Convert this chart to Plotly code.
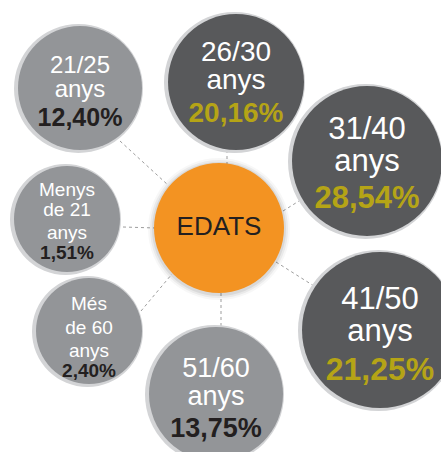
import plotly.graph_objects as go

# ---- data ----
categories = ["Menys de 21 anys", "21/25 anys", "26/30 anys", "31/40 anys",
              "41/50 anys", "51/60 anys", "Més de 60 anys"]
label_lines = [["Menys", "de 21", "anys"], ["21/25", "anys"], ["26/30", "anys"],
               ["31/40", "anys"], ["41/50", "anys"], ["51/60", "anys"],
               ["Més", "de 60", "anys"]]
values = [1.51, 12.40, 20.16, 28.54, 21.25, 13.75, 2.40]
center_label = "EDATS"

# ---- layout constants (pixel space of the picture) ----
W, H = 441, 452
centers = [(67, 219), (80, 88), (236, 82), (367, 161), (380, 330), (216, 394), (89, 331)]
radii = [53, 62, 68, 75, 78, 67, 53]
dark = [False, False, True, True, True, False, False]
label_size = [19, 24, 28, 31, 31, 27, 19]
pct_size = [19, 25, 28, 31, 32, 27, 19]
line_y = [[191, 211, 234], [66.5, 91], [54, 82], [131, 163],
          [301, 333], [370, 398], [305, 329.5, 352]]
pct_y = [254, 119.5, 115, 200, 372, 430, 372]
connectors = [((123, 227), (156, 228)), ((120, 141), (168, 185)), ((227, 150), (227, 165)),
              ((283, 211), (299, 201)), ((276, 262), (314, 286)), ((221, 293), (221, 326)),
              ((141, 311), (172, 274))]
edats_c, edats_r = (219, 228), 65

GRAY, DARKG, ORANGE, OLIVE, INK = "#939598", "#58595b", "#f39322", "#b5a416", "#231f20"
FONT = "Liberation Sans, Arial, Helvetica, sans-serif"

def circ(c, r, color, dx=0, dy=0, opacity=1):
    return dict(type="circle", xref="x", yref="y", layer="below",
                x0=c[0] - r + dx, x1=c[0] + r + dx, y0=c[1] - r + dy, y1=c[1] + r + dy,
                fillcolor=color, line=dict(width=0), opacity=opacity)

shapes = []
for (a, b) in connectors:
    shapes.append(dict(type="line", xref="x", yref="y", layer="below",
                       x0=a[0], y0=a[1], x1=b[0], y1=b[1],
                       line=dict(color="#9d9d9d", width=1, dash="dot")))
# soft glow of centre circle
for k, op in [(6, 0.03), (4, 0.05), (2, 0.07)]:
    shapes.append(circ(edats_c, edats_r + k, "#000000", 0, 1, op))
shapes.append(circ(edats_c, edats_r, ORANGE))
for c, r, d in zip(centers, radii, dark):
    shapes.append(circ(c, r + 2.5, "#d3d4d6", -1.5, 0.5))
    shapes.append(circ(c, r, DARKG if d else GRAY))

fig = go.Figure()
# category labels
xs, ys, txt, sizes = [], [], [], []
for i, lines in enumerate(label_lines):
    for ln, yy in zip(lines, line_y[i]):
        xs.append(centers[i][0]); ys.append(yy); txt.append(ln); sizes.append(label_size[i])
fig.add_trace(go.Scatter(x=xs, y=ys, text=txt, mode="text", textposition="middle center",
                         textfont=dict(family=FONT, size=sizes, color="white"),
                         hoverinfo="skip", showlegend=False))
# percentages
pct_txt = [("%.2f" % v).replace(".", ",") + "%" for v in values]
fig.add_trace(go.Scatter(x=[c[0] for c in centers], y=pct_y,
                         text=["<b>" + t + "</b>" for t in pct_txt],
                         customdata=categories,
                         mode="text", textposition="middle center",
                         textfont=dict(family=FONT, size=pct_size,
                                       color=[OLIVE if d else INK for d in dark]),
                         hovertemplate="%{customdata}: %{text}<extra></extra>",
                         showlegend=False))
fig.add_trace(go.Scatter(x=[edats_c[0]], y=[edats_c[1]], text=[center_label], mode="text",
                         textposition="middle center",
                         textfont=dict(family=FONT, size=26, color=INK),
                         hoverinfo="skip", showlegend=False))

fig.update_layout(width=W, height=H, margin=dict(l=0, r=0, t=0, b=0),
                  paper_bgcolor="white", plot_bgcolor="white", shapes=shapes,
                  xaxis=dict(range=[0, W], visible=False, fixedrange=True),
                  yaxis=dict(range=[H, 0], visible=False, fixedrange=True),
                  showlegend=False)
fig.write_html("out.html", config={"displayModeBar": False},
               post_script="document.body.style.margin='0';document.body.style.overflow='hidden';")
